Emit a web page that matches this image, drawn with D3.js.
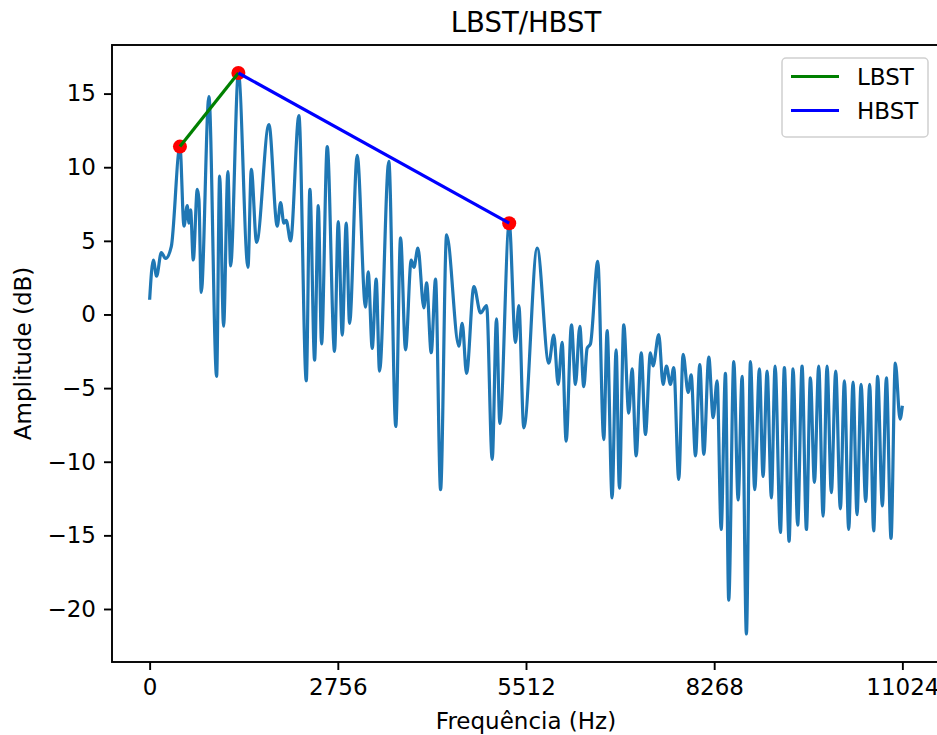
<!DOCTYPE html>
<html>
<head>
  <meta charset="utf8">
  <script src="https://d3js.org/d3.v7.min.js"></script>
  <style>
    body { margin: 0; background: #fff; }
    svg { display: block; overflow: hidden; }
    text { font-family: "DejaVu Sans", sans-serif; fill: #000; }
  </style>
</head>
<body>
  <svg id="chart" width="937" height="735"></svg>
  <script>
    // spectrum (Hz, dB)
    var freqHz = [
      0, 54, 102, 171, 234, 317, 444, 503, 551, 576, 600, 639, 698, 722, 756,
      868, 981, 1025, 1083, 1146, 1186, 1300, 1440, 1489, 1566, 1747, 1869, 1918,
      1966, 2000, 2064, 2186, 2294, 2347, 2416, 2470, 2518, 2601, 2708, 2762, 2821,
      2879, 2928, 3040, 3162, 3201, 3260, 3318, 3367, 3503, 3605, 3675, 3748, 3831,
      3870, 3929, 4017, 4056, 4124, 4187, 4261, 4349, 4529, 4578, 4641, 4749, 4847,
      4935, 5017, 5080, 5129, 5266, 5358, 5407, 5480, 5676, 5846, 5919, 5983, 6041,
      6100, 6178, 6236, 6300, 6358, 6407, 6456, 6563, 6651, 6700, 6773, 6832, 6880,
      6944, 7017, 7066, 7125, 7200, 7261, 7334, 7373, 7456, 7520, 7569, 7627, 7676,
      7749, 7813, 7887, 7931, 7994, 8057, 8116, 8189, 8253, 8311, 8370, 8433, 8481,
      8555, 8619, 8677, 8740, 8799, 8862, 8930, 8984, 9043, 9106, 9160, 9238, 9296,
      9365, 9423, 9491, 9555, 9619, 9677, 9736, 9799, 9863, 9921, 9984, 10048, 10116,
      10175, 10238, 10302, 10360, 10419, 10487, 10545, 10604, 10662, 10731, 10790,
      10858, 10921, 10990, 11024
    ];
    var ampDb = [
      1.0, 3.7, 2.6, 4.2, 3.8, 4.6, 11.4, 6.0, 7.4, 6.2, 7.1, 3.7, 8.5, 7.8, 1.5,
      14.8, -4.2, 9.4, -0.8, 9.7, 3.3, 16.4, 3.2, 9.85, 4.9, 12.9, 6.0, 7.6,
      6.2, 6.4, 5.0, 13.5, -4.5, 8.5, -3.1, 7.4, -2.0, 11.4, -2.5, 6.3, -1.4,
      6.2, -0.6, 10.8, 0.5, 2.9, -2.3, 2.4, -3.85, 10.4, -7.6, 5.2, -2.4, 3.7,
      3.2, 4.5, 0.45, 2.15, -2.6, 2.4, -11.9, 5.4, -2.15, -0.6, -4.0, 1.9, 0.1,
      0.6, -9.85, -0.3, -7.4, 6.2, -1.9, 0.6, -7.7, 4.5, -3.3, -1.4, -4.75, -1.9,
      -8.6, -0.7, -4.75, -0.8, -4.9, -2.3, -2.0, 3.6, -8.5, -1.1, -12.45, -2.4, -11.8,
      -0.7, -6.7, -3.7, -9.6, -2.6, -8.15, -2.6, -3.5, -1.36, -4.75, -3.5, -4.75, -3.6,
      -11.2, -2.7, -5.3, -4.1, -9.6, -3.4, -9.5, -2.9, -7.0, -4.5, -14.6, -4.0, -19.4,
      -3.2, -12.6, -4.2, -21.7, -3.2, -11.9, -3.7, -11.0, -3.85, -12.45, -3.5, -14.8, -3.6,
      -15.4, -3.7, -14.3, -3.5, -14.6, -4.3, -11.4, -3.5, -13.7, -3.5, -12.1, -3.85, -13.2,
      -4.5, -14.6, -4.6, -13.6, -4.75, -12.7, -4.75, -14.7, -4.2, -13.0, -4.3,
      -15.2, -3.3, -7.1, -6.2
    ];

    var lbstHz = [444, 1300];
    var lbstDb = [11.4, 16.4];
    var hbstHz = [1300, 5266];
    var hbstDb = [16.4, 6.2];

    var xTicks = [0, 2756, 5512, 8268, 11024];
    var yTicks = [-20, -15, -10, -5, 0, 5, 10, 15];

    var svg = d3.select('#chart');
    var margin = { top: 45, left: 112 };
    var plotW = 828, plotH = 617;

    var x = d3.scaleLinear().domain([-551.2, 11575.2]).range([0, plotW]);
    var y = d3.scaleLinear().domain([-23.6, 18.3]).range([plotH, 0]);

    var g = svg.append('g')
      .attr('transform', 'translate(' + margin.left + ',' + margin.top + ')');

    var spectrum = freqHz.map((f, i) => [f, ampDb[i]]);

    g.append('path')
      .datum(spectrum)
      .attr('fill', 'none')
      .attr('stroke', '#1f77b4')
      .attr('stroke-width', 3.2)
      .attr('stroke-linejoin', 'round')
      .attr('d', d3.line()
        .x((d) => x(d[0]))
        .y((d) => y(d[1]))
        .curve(d3.curveMonotoneX));

    var peaks = [[lbstHz[0], lbstDb[0]], [hbstHz[0], hbstDb[0]], [hbstHz[1], hbstDb[1]]];
    g.selectAll('circle.peak')
      .data(peaks)
      .enter()
      .append('circle')
      .attr('class', 'peak')
      .attr('cx', (d) => x(d[0]))
      .attr('cy', (d) => y(d[1]))
      .attr('r', 7)
      .attr('fill', '#ff0000');

    var seg = d3.line().x((d) => x(d[0])).y((d) => y(d[1]));
    g.append('path')
      .datum(lbstHz.map((f, i) => [f, lbstDb[i]]))
      .attr('fill', 'none')
      .attr('stroke', '#008000')
      .attr('stroke-width', 3.2)
      .attr('d', seg);
    g.append('path')
      .datum(hbstHz.map((f, i) => [f, hbstDb[i]]))
      .attr('fill', 'none')
      .attr('stroke', '#0000ff')
      .attr('stroke-width', 3.2)
      .attr('d', seg);

    // frame
    g.append('rect')
      .attr('width', plotW)
      .attr('height', plotH)
      .attr('fill', 'none')
      .attr('stroke', '#000')
      .attr('stroke-width', 1.9);

    var xAxis = g.append('g')
      .attr('transform', 'translate(0,' + plotH + ')')
      .call(d3.axisBottom(x).tickValues(xTicks).tickSize(8).tickPadding(9).tickFormat(d3.format('d')));
    xAxis.select('.domain').remove();
    xAxis.selectAll('line').attr('stroke-width', 1.9);
    xAxis.selectAll('text').attr('font-size', 23).attr('font-family', 'DejaVu Sans').attr('fill', '#000');

    var yAxis = g.append('g')
      .call(d3.axisLeft(y).tickValues(yTicks).tickSize(8).tickPadding(8)
        .tickFormat((d) => d < 0 ? '\u2212' + Math.abs(d) : d));
    yAxis.select('.domain').remove();
    yAxis.selectAll('line').attr('stroke-width', 1.9);
    yAxis.selectAll('text').attr('font-size', 23).attr('font-family', 'DejaVu Sans').attr('fill', '#000');

    // titles
    svg.append('text')
      .attr('x', margin.left + plotW / 2)
      .attr('y', 32)
      .attr('text-anchor', 'middle')
      .attr('font-size', 27.5)
      .text('LBST/HBST');

    svg.append('text')
      .attr('x', margin.left + plotW / 2)
      .attr('y', 729)
      .attr('text-anchor', 'middle')
      .attr('font-size', 23)
      .text('Frequência (Hz)');

    svg.append('text')
      .attr('transform', 'translate(31,' + (margin.top + plotH / 2) + ') rotate(-90)')
      .attr('text-anchor', 'middle')
      .attr('font-size', 23)
      .text('Amplitude (dB)');

    // legend
    var legend = svg.append('g');
    legend.append('rect')
      .attr('x', 782).attr('y', 58)
      .attr('width', 146).attr('height', 79)
      .attr('rx', 4)
      .attr('fill', '#fff').attr('fill-opacity', 0.8)
      .attr('stroke', '#d0d0d0').attr('stroke-width', 1.5);
    var legendItems = [['LBST', '#008000'], ['HBST', '#0000ff']];
    legendItems.forEach((item, i) => {
      var ly = 76.5 + i * 34;
      legend.append('line')
        .attr('x1', 791).attr('x2', 839)
        .attr('y1', ly).attr('y2', ly)
        .attr('stroke', item[1]).attr('stroke-width', 3.2);
      legend.append('text')
        .attr('x', 857).attr('y', ly + 8.5)
        .attr('font-size', 23)
        .text(item[0]);
    });
  </script>
</body>
</html>
